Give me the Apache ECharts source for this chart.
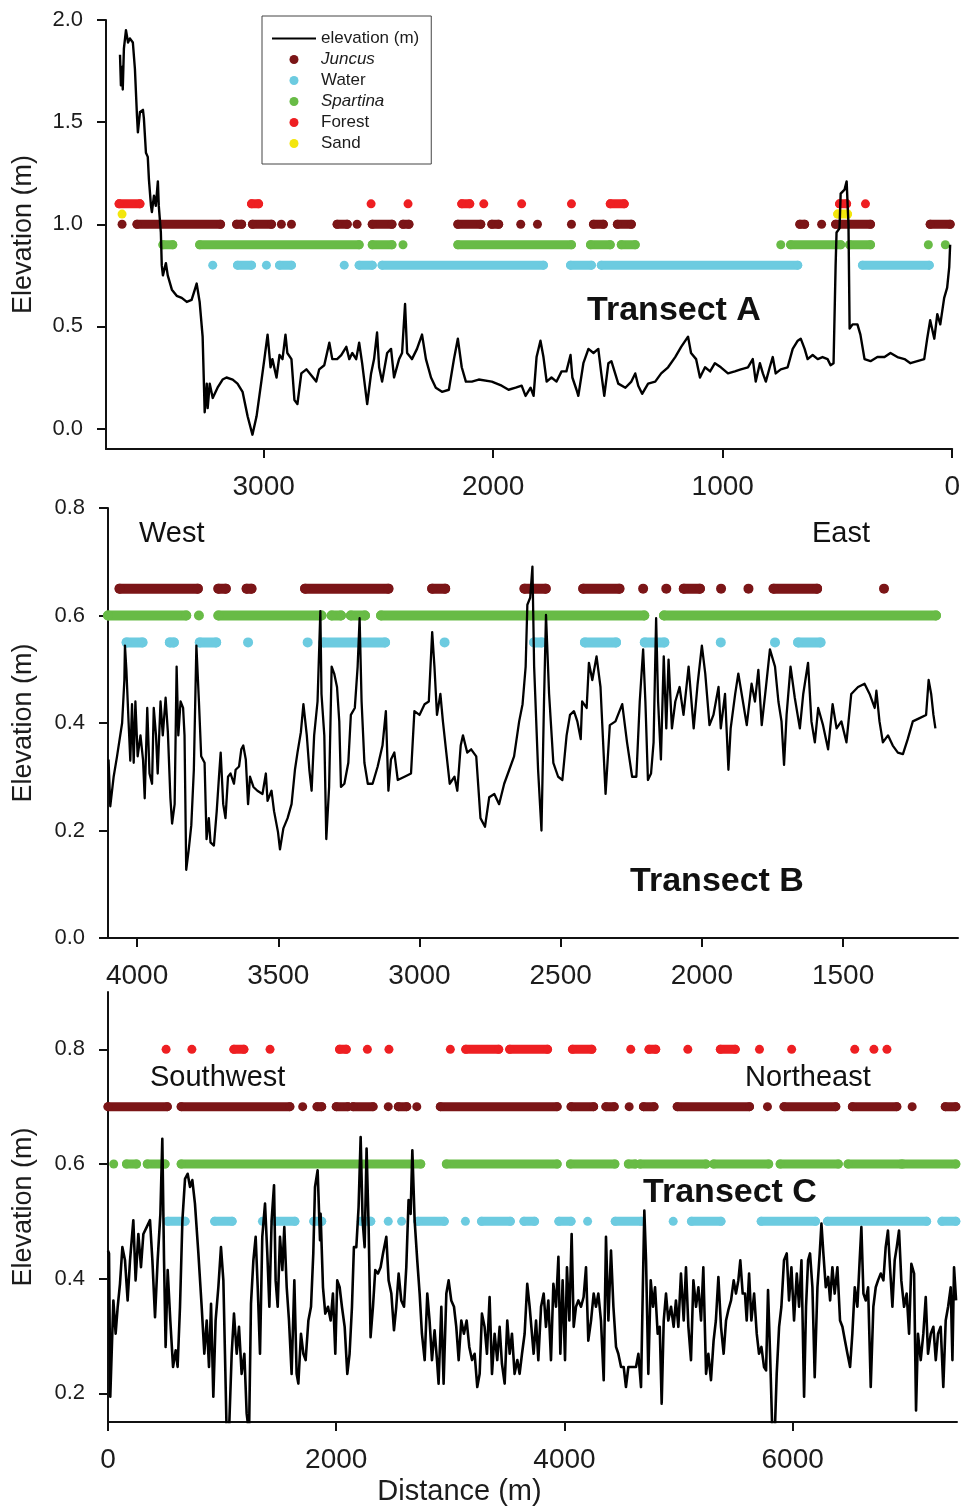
<!DOCTYPE html>
<html><head><meta charset="utf-8">
<script src="https://cdn.jsdelivr.net/npm/echarts@6/dist/echarts.min.js"></script>
<style>html,body{margin:0;padding:0;background:#fff}#c{width:963px;height:1510px}</style>
</head><body><div id="c"></div>
<script>
// ---------- Elevation profiles: [distance (m), elevation (m)] ----------
const elevA = [[3626,1.83],[3622,1.68],[3617,1.77],[3614,1.66],[3609,1.86],[3600,1.95],[3591,1.89],[3583,1.91],[3570,1.89],[3561,1.76],[3552,1.53],[3548,1.45],[3539,1.55],[3526,1.56],[3522,1.52],[3513,1.35],[3505,1.33],[3500,1.22],[3491,1.09],[3487,1.06],[3478,1.14],[3470,1.09],[3461,1.21],[3457,1.09],[3448,0.96],[3444,0.80],[3439,0.75],[3426,0.81],[3418,0.75],[3400,0.68],[3379,0.65],[3357,0.64],[3335,0.62],[3314,0.63],[3300,0.68],[3292,0.71],[3279,0.62],[3266,0.45],[3257,0.08],[3248,0.22],[3244,0.10],[3235,0.22],[3222,0.15],[3201,0.20],[3179,0.24],[3162,0.25],[3135,0.24],[3114,0.22],[3092,0.18],[3070,0.06],[3049,-0.03],[3031,0.06],[3009,0.24],[2997,0.34],[2983,0.46],[2970,0.30],[2962,0.34],[2944,0.25],[2931,0.36],[2918,0.34],[2905,0.46],[2897,0.37],[2879,0.34],[2866,0.14],[2853,0.12],[2836,0.27],[2814,0.29],[2792,0.26],[2771,0.23],[2758,0.29],[2736,0.31],[2714,0.42],[2701,0.34],[2680,0.34],[2662,0.36],[2640,0.40],[2627,0.34],[2614,0.37],[2597,0.34],[2584,0.42],[2571,0.32],[2549,0.12],[2532,0.27],[2519,0.34],[2506,0.47],[2497,0.30],[2484,0.23],[2462,0.37],[2445,0.39],[2432,0.25],[2410,0.34],[2397,0.37],[2384,0.61],[2375,0.37],[2354,0.34],[2332,0.39],[2310,0.46],[2293,0.34],[2271,0.25],[2250,0.20],[2223,0.18],[2193,0.19],[2171,0.34],[2154,0.44],[2137,0.30],[2119,0.23],[2093,0.23],[2063,0.24],[2006,0.23],[1963,0.21],[1933,0.19],[1902,0.20],[1876,0.21],[1859,0.16],[1837,0.20],[1824,0.16],[1811,0.35],[1794,0.43],[1781,0.35],[1767,0.23],[1746,0.25],[1724,0.23],[1702,0.28],[1681,0.28],[1663,0.36],[1655,0.25],[1637,0.19],[1629,0.16],[1607,0.32],[1585,0.39],[1563,0.37],[1542,0.39],[1529,0.27],[1516,0.16],[1498,0.32],[1485,0.33],[1455,0.22],[1424,0.20],[1398,0.23],[1381,0.27],[1368,0.21],[1351,0.17],[1325,0.22],[1294,0.23],[1268,0.27],[1238,0.30],[1207,0.35],[1181,0.40],[1151,0.45],[1138,0.37],[1116,0.34],[1099,0.25],[1077,0.30],[1055,0.28],[1034,0.32],[1008,0.30],[977,0.27],[947,0.28],[921,0.29],[890,0.30],[869,0.34],[856,0.23],[838,0.32],[825,0.27],[812,0.23],[795,0.30],[782,0.35],[769,0.27],[747,0.29],[717,0.30],[695,0.39],[673,0.43],[660,0.44],[643,0.39],[630,0.34],[608,0.36],[586,0.34],[565,0.35],[543,0.34],[530,0.31],[517,0.32],[508,0.80],[504,0.96],[491,0.98],[486,1.15],[469,1.17],[460,1.21],[452,1.00],[447,0.49],[434,0.51],[413,0.51],[400,0.46],[382,0.34],[356,0.33],[326,0.35],[295,0.35],[269,0.37],[239,0.35],[208,0.34],[182,0.32],[152,0.33],[122,0.34],[109,0.44],[96,0.53],[78,0.44],[65,0.56],[52,0.51],[35,0.64],[22,0.69],[13,0.79],[9,0.90]];

const elevB = [[4101,0.332],[4095,0.245],[4083,0.30],[4071,0.338],[4053,0.40],[4045,0.48],[4043,0.544],[4038,0.50],[4030,0.40],[4024,0.33],[4018,0.435],[4012,0.326],[4006,0.44],[3998,0.338],[3988,0.377],[3979,0.332],[3973,0.26],[3964,0.428],[3956,0.306],[3947,0.287],[3941,0.428],[3933,0.377],[3927,0.306],[3917,0.44],[3909,0.377],[3899,0.447],[3891,0.383],[3882,0.26],[3876,0.213],[3867,0.249],[3860,0.505],[3854,0.377],[3846,0.44],[3837,0.428],[3832,0.377],[3826,0.127],[3817,0.165],[3808,0.21],[3799,0.313],[3790,0.544],[3781,0.44],[3773,0.338],[3761,0.326],[3754,0.184],[3746,0.223],[3740,0.178],[3728,0.172],[3718,0.236],[3710,0.30],[3704,0.345],[3695,0.249],[3687,0.223],[3678,0.30],[3669,0.306],[3657,0.287],[3651,0.313],[3639,0.319],[3631,0.351],[3624,0.358],[3615,0.332],[3607,0.249],[3600,0.30],[3588,0.281],[3574,0.274],[3556,0.268],[3544,0.306],[3538,0.255],[3524,0.274],[3515,0.236],[3501,0.197],[3494,0.165],[3482,0.204],[3467,0.223],[3453,0.249],[3441,0.313],[3432,0.345],[3420,0.383],[3411,0.435],[3399,0.377],[3390,0.313],[3382,0.274],[3373,0.377],[3361,0.44],[3351,0.608],[3347,0.454],[3337,0.377],[3330,0.184],[3320,0.281],[3311,0.505],[3302,0.492],[3292,0.467],[3284,0.403],[3278,0.281],[3266,0.287],[3252,0.326],[3243,0.415],[3229,0.428],[3219,0.505],[3212,0.595],[3205,0.44],[3195,0.326],[3183,0.287],[3166,0.287],[3148,0.319],[3131,0.358],[3119,0.422],[3110,0.274],[3101,0.332],[3089,0.345],[3077,0.294],[3053,0.30],[3030,0.306],[3018,0.422],[3000,0.415],[2982,0.435],[2967,0.44],[2955,0.569],[2947,0.505],[2938,0.415],[2926,0.454],[2917,0.403],[2905,0.345],[2893,0.287],[2876,0.30],[2866,0.274],[2854,0.358],[2846,0.377],[2831,0.345],[2817,0.351],[2799,0.338],[2784,0.223],[2768,0.207],[2753,0.262],[2735,0.268],[2718,0.249],[2700,0.287],[2682,0.313],[2665,0.338],[2647,0.403],[2635,0.435],[2624,0.505],[2618,0.62],[2608,0.633],[2600,0.691],[2594,0.505],[2580,0.313],[2568,0.20],[2559,0.44],[2552,0.601],[2541,0.454],[2526,0.326],[2509,0.30],[2494,0.294],[2479,0.377],[2467,0.415],[2453,0.422],[2441,0.403],[2429,0.37],[2424,0.44],[2408,0.428],[2400,0.512],[2388,0.48],[2373,0.524],[2359,0.467],[2341,0.268],[2326,0.396],[2306,0.403],[2282,0.435],[2265,0.364],[2247,0.30],[2232,0.30],[2220,0.44],[2208,0.537],[2200,0.44],[2191,0.294],[2180,0.306],[2171,0.364],[2162,0.595],[2155,0.44],[2145,0.332],[2135,0.524],[2126,0.39],[2118,0.518],[2106,0.39],[2094,0.44],[2079,0.467],[2065,0.415],[2047,0.505],[2029,0.39],[2015,0.473],[2000,0.544],[1988,0.492],[1973,0.396],[1959,0.415],[1941,0.467],[1933,0.39],[1918,0.454],[1906,0.313],[1898,0.39],[1882,0.454],[1871,0.492],[1853,0.435],[1841,0.396],[1824,0.473],[1812,0.44],[1800,0.499],[1788,0.396],[1773,0.467],[1759,0.537],[1741,0.505],[1729,0.44],[1718,0.403],[1709,0.322],[1700,0.415],[1686,0.505],[1671,0.447],[1653,0.39],[1641,0.454],[1624,0.512],[1612,0.403],[1600,0.364],[1588,0.428],[1571,0.396],[1553,0.351],[1537,0.435],[1523,0.39],[1506,0.403],[1488,0.364],[1471,0.454],[1447,0.467],[1424,0.473],[1406,0.454],[1388,0.428],[1382,0.46],[1371,0.403],[1359,0.364],[1341,0.377],[1324,0.358],[1306,0.345],[1288,0.342],[1271,0.37],[1253,0.403],[1229,0.409],[1206,0.415],[1197,0.48],[1188,0.454],[1180,0.415],[1173,0.39]];

const elevC = [[0,0.449],[9,0.444],[20,0.194],[32,0.194],[47,0.362],[67,0.304],[85,0.351],[105,0.391],[126,0.455],[149,0.432],[172,0.362],[193,0.432],[222,0.502],[242,0.397],[266,0.478],[289,0.42],[310,0.478],[339,0.49],[368,0.502],[389,0.432],[412,0.333],[435,0.432],[459,0.513],[476,0.644],[491,0.432],[505,0.281],[523,0.415],[546,0.327],[570,0.246],[593,0.275],[610,0.246],[631,0.351],[652,0.502],[675,0.574],[698,0.583],[719,0.56],[739,0.572],[762,0.531],[792,0.444],[821,0.351],[844,0.269],[865,0.327],[885,0.246],[903,0.356],[923,0.194],[943,0.327],[967,0.385],[990,0.455],[1011,0.397],[1025,0.269],[1040,0.13],[1060,0.13],[1084,0.269],[1104,0.339],[1128,0.269],[1148,0.316],[1171,0.234],[1195,0.269],[1215,0.165],[1236,0.13],[1253,0.356],[1274,0.432],[1294,0.473],[1312,0.385],[1332,0.269],[1352,0.473],[1376,0.531],[1396,0.444],[1414,0.351],[1434,0.502],[1455,0.563],[1469,0.397],[1487,0.351],[1507,0.473],[1528,0.415],[1545,0.49],[1566,0.385],[1586,0.327],[1609,0.234],[1633,0.397],[1653,0.234],[1668,0.217],[1691,0.304],[1712,0.269],[1732,0.258],[1756,0.327],[1779,0.351],[1799,0.444],[1814,0.56],[1837,0.589],[1858,0.467],[1863,0.513],[1884,0.385],[1904,0.339],[1928,0.351],[1951,0.327],[1971,0.374],[1992,0.269],[2009,0.397],[2030,0.385],[2050,0.351],[2074,0.316],[2097,0.234],[2117,0.269],[2138,0.351],[2155,0.455],[2176,0.455],[2196,0.525],[2214,0.647],[2231,0.502],[2249,0.455],[2266,0.627],[2284,0.49],[2301,0.298],[2322,0.351],[2342,0.415],[2366,0.409],[2389,0.42],[2410,0.444],[2439,0.473],[2459,0.397],[2483,0.374],[2506,0.31],[2526,0.351],[2547,0.409],[2570,0.362],[2594,0.351],[2614,0.42],[2634,0.537],[2652,0.513],[2667,0.624],[2687,0.502],[2710,0.432],[2731,0.374],[2751,0.304],[2775,0.258],[2798,0.374],[2818,0.327],[2839,0.258],[2862,0.31],[2883,0.258],[2897,0.217],[2921,0.351],[2941,0.217],[2965,0.374],[2985,0.397],[3008,0.362],[3032,0.351],[3052,0.316],[3073,0.258],[3096,0.327],[3119,0.304],[3143,0.327],[3166,0.281],[3190,0.258],[3213,0.269],[3236,0.211],[3257,0.234],[3277,0.339],[3300,0.316],[3321,0.269],[3344,0.368],[3365,0.234],[3388,0.304],[3411,0.258],[3432,0.316],[3452,0.252],[3476,0.217],[3499,0.327],[3520,0.269],[3540,0.304],[3563,0.234],[3587,0.258],[3607,0.234],[3628,0.269],[3651,0.304],[3674,0.391],[3695,0.351],[3715,0.304],[3730,0.269],[3751,0.327],[3771,0.258],[3795,0.351],[3818,0.374],[3838,0.316],[3859,0.362],[3882,0.258],[3903,0.391],[3926,0.351],[3947,0.438],[3964,0.269],[3984,0.397],[4005,0.258],[4022,0.42],[4043,0.327],[4063,0.478],[4081,0.316],[4101,0.351],[4122,0.362],[4145,0.351],[4168,0.368],[4189,0.42],[4209,0.292],[4233,0.327],[4256,0.374],[4276,0.351],[4297,0.374],[4320,0.327],[4344,0.223],[4364,0.473],[4385,0.327],[4408,0.449],[4429,0.351],[4452,0.281],[4472,0.269],[4496,0.246],[4519,0.246],[4539,0.211],[4560,0.246],[4584,0.246],[4607,0.246],[4627,0.246],[4648,0.269],[4671,0.211],[4686,0.374],[4700,0.519],[4715,0.432],[4735,0.234],[4756,0.397],[4776,0.351],[4794,0.385],[4817,0.304],[4835,0.316],[4852,0.182],[4870,0.327],[4890,0.374],[4910,0.327],[4934,0.351],[4957,0.316],[4977,0.362],[4998,0.316],[5021,0.409],[5045,0.327],[5065,0.42],[5086,0.316],[5109,0.258],[5130,0.397],[5153,0.351],[5174,0.385],[5197,0.327],[5217,0.42],[5241,0.234],[5261,0.269],[5284,0.223],[5307,0.292],[5327,0.327],[5349,0.403],[5372,0.316],[5395,0.269],[5416,0.327],[5436,0.345],[5460,0.362],[5483,0.397],[5503,0.374],[5524,0.397],[5541,0.432],[5562,0.374],[5582,0.374],[5597,0.327],[5618,0.409],[5638,0.327],[5662,0.374],[5685,0.304],[5705,0.269],[5726,0.281],[5749,0.246],[5767,0.24],[5784,0.38],[5802,0.269],[5822,0.13],[5843,0.13],[5860,0.234],[5881,0.316],[5901,0.351],[5924,0.432],[5948,0.444],[5968,0.362],[5989,0.42],[6012,0.327],[6036,0.409],[6056,0.351],[6077,0.432],[6100,0.194],[6117,0.351],[6135,0.432],[6152,0.444],[6173,0.385],[6193,0.228],[6217,0.385],[6237,0.444],[6252,0.496],[6269,0.444],[6290,0.385],[6311,0.403],[6328,0.362],[6348,0.42],[6368,0.374],[6392,0.42],[6415,0.327],[6436,0.316],[6458,0.292],[6480,0.269],[6503,0.246],[6523,0.304],[6544,0.385],[6567,0.351],[6587,0.432],[6602,0.49],[6620,0.374],[6640,0.362],[6661,0.385],[6684,0.211],[6707,0.351],[6728,0.385],[6748,0.397],[6772,0.409],[6795,0.397],[6815,0.455],[6835,0.484],[6853,0.42],[6874,0.351],[6894,0.432],[6912,0.455],[6932,0.484],[6952,0.397],[6976,0.351],[6999,0.374],[7020,0.304],[7040,0.426],[7064,0.409],[7081,0.17],[7098,0.304],[7122,0.258],[7145,0.304],[7166,0.368],[7186,0.269],[7210,0.304],[7233,0.316],[7254,0.258],[7274,0.304],[7297,0.316],[7320,0.211],[7341,0.327],[7362,0.351],[7385,0.385],[7400,0.258],[7414,0.42],[7432,0.362]];

// ---------- Habitat observations: runs of [from, to] distance (m) ----------
const juncusA   = [[3617,3617],[3552,3188],[3118,3096],[3049,2966],[2923,2923],[2879,2879],[2680,2636],[2593,2593],[2527,2441],[2393,2367],[2154,2054],[2006,1976],[1880,1880],[1807,1807],[1659,1659],[1563,1520],[1459,1398],[664,643],[569,569],[508,356],[96,9]];
const waterA    = [[3222,3222],[3114,3053],[2988,2988],[2931,2879],[2649,2649],[2584,2527],[2484,1781],[1663,1572],[1529,673],[391,100]];
const spartinaA = [[3439,3396],[3279,2584],[2527,2441],[2393,2393],[2154,1659],[1576,1490],[1442,1381],[747,747],[704,486],[447,356],[104,104],[30,30]];
const forestA   = [[3630,3539],[3053,3022],[2532,2532],[2371,2371],[2137,2102],[2041,2041],[1876,1876],[1659,1659],[1490,1429],[491,460],[378,378]];
const sandA     = [[3617,3617],[499,456]];

const juncusB   = [[4062,3785],[3712,3686],[3612,3595],[3405,3110],[2955,2909],[2628,2553],[2420,2292],[2208,2208],[2126,2126],[2064,2007],[1932,1932],[1835,1835],[1746,1592],[1355,1355]];
const spartinaB = [[4103,3826],[3781,3781],[3712,3347],[3311,3278],[3243,3193],[3136,2204],[2134,1171]];
const waterB    = [[4037,3981],[3884,3870],[3778,3720],[3607,3607],[3396,3396],[3340,3122],[2911,2911],[2594,2567],[2414,2304],[2202,2133],[1933,1933],[1741,1741],[1659,1580]];

const forestC   = [[509,509],[735,735],[1103,1191],[1420,1420],[2029,2088],[2273,2273],[2462,2462],[3000,3000],[3135,3424],[3520,3852],[4070,4240],[4581,4581],[4741,4800],[5081,5081],[5366,5497],[5709,5709],[5991,5991],[6544,6544],[6712,6712],[6826,6826]];
const juncusC   = [[0,520],[641,1594],[1706,1706],[1832,1873],[2000,2103],[2147,2323],[2456,2456],[2544,2618],[2706,2706],[2912,3936],[4058,4256],[4363,4436],[4567,4567],[4692,4785],[4988,5622],[5779,5779],[5924,6378],[6523,6913],[7047,7047],[7337,7430]];
const spartinaC = [[50,50],[162,250],[344,500],[641,2741],[2965,3936],[4052,4442],[4560,4620],[4663,5240],[5308,5790],[5890,6400],[6485,6950],[6965,7430]];
const waterC    = [[523,676],[935,1088],[1353,1353],[1465,1638],[1803,1873],[2220,2303],[2456,2456],[2573,2573],[2715,2947],[3132,3132],[3273,3526],[3645,3738],[3951,4058],[4203,4203],[4445,4674],[4953,4953],[5113,5372],[5724,6200],[6305,7174],[7308,7430]];

// plotting levels of the habitat markers (m)
const levelA = {Forest:1.1, Sand:1.05, Juncus:1.0, Spartina:0.9, Water:0.8};
const levelB = {Juncus:0.65, Spartina:0.6, Water:0.55};
const levelC = {Forest:0.8, Juncus:0.7, Spartina:0.6, Water:0.5};

// axis tick values
const xTicksA = [0,1000,2000,3000];
const xTicksB = [1500,2000,2500,3000,3500,4000];
const xTicksC = [0,2000,4000,6000];
const yTicksA = [0,0.5,1.0,1.5,2.0];
const yTicksB = [0,0.2,0.4,0.6,0.8];
const yTicksC = [0.2,0.4,0.6,0.8];

const legendNames = ['elevation (m)','Juncus','Water','Spartina','Forest','Sand'];

const COLORS = {Juncus:'#7b1517', Water:'#6ccbe0', Spartina:'#68bb46', Forest:'#ee1f22', Sand:'#f3e60c'};
const FONT = '"Liberation Sans", Arial, sans-serif';
const INK = '#1c1c1c';

function runLine(runs, y){
  const d=[];
  runs.forEach(r=>{ d.push([r[0],y],[r[1],y],[r[1],'-']); });
  return d;
}
function runDots(runs, y){
  const d=[];
  runs.forEach(r=>{ d.push([r[0],y]); if(r[1]!==r[0]) d.push([r[1],y]); });
  return d;
}
function habitat(name, runs, y, gi, size){
  return [
    {type:'line', name, xAxisIndex:gi, yAxisIndex:gi, data:runLine(runs,y), symbol:'none', showSymbol:false,
     connectNulls:false, clip:false, silent:true, z:2, color:COLORS[name],
     lineStyle:{color:COLORS[name], width:size, cap:'round'}},
    {type:'scatter', name, xAxisIndex:gi, yAxisIndex:gi, data:runDots(runs,y), symbol:'circle', symbolSize:size,
     clip:false, silent:true, z:2, itemStyle:{color:COLORS[name], opacity:1}}
  ];
}
function elev(data, gi, w){
  return {type:'line', name:'elevation (m)', xAxisIndex:gi, yAxisIndex:gi, data, symbol:'none', showSymbol:false,
    clip:true, z:4, color:'#000', lineStyle:{color:'#000', width:w, join:'round'}};
}
function xAxis(gi, min, max, inverse, ticks, extra){
  return Object.assign({type:'value', gridIndex:gi, min, max, inverse, splitLine:{show:false},
    axisLine:{onZero:false, lineStyle:{color:'#111', width:2}},
    axisTick:{customValues:ticks, length:9, lineStyle:{color:'#111', width:2}},
    axisLabel:{customValues:ticks, fontSize:28, color:INK, margin:24, fontFamily:FONT, formatter:v=>String(v)}}, extra||{});
}
function yAxis(gi, min, max, ticks, gap){
  return {type:'value', gridIndex:gi, min, max, splitLine:{show:false},
    name:'Elevation (m)', nameLocation:'middle', nameGap:gap,
    nameTextStyle:{fontSize:27, color:INK, fontFamily:FONT},
    axisLine:{onZero:false, lineStyle:{color:'#111', width:2}},
    axisTick:{customValues:ticks, length:9, lineStyle:{color:'#111', width:2}},
    axisLabel:{customValues:ticks, fontSize:22, color:INK, margin:23, fontFamily:FONT, formatter:v=>v.toFixed(1)}};
}
function label(text, x, y, size, bold, align){
  return {type:'text', x, y, z:10, style:{text, fill:'#111', fontSize:size, fontWeight:bold?'bold':'normal',
    fontFamily:FONT, align:align||'left', verticalAlign:'middle'}};
}

const series = [
  ...habitat('Water', waterA, levelA.Water, 0, 9),
  ...habitat('Spartina', spartinaA, levelA.Spartina, 0, 9),
  ...habitat('Juncus', juncusA, levelA.Juncus, 0, 9),
  ...habitat('Sand', sandA, levelA.Sand, 0, 9),
  ...habitat('Forest', forestA, levelA.Forest, 0, 9),
  elev(elevA, 0, 2.4),
  ...habitat('Water', waterB, levelB.Water, 1, 10),
  ...habitat('Spartina', spartinaB, levelB.Spartina, 1, 10),
  ...habitat('Juncus', juncusB, levelB.Juncus, 1, 10),
  elev(elevB, 1, 2.3),
  ...habitat('Water', waterC, levelC.Water, 2, 9),
  ...habitat('Spartina', spartinaC, levelC.Spartina, 2, 9),
  ...habitat('Juncus', juncusC, levelC.Juncus, 2, 9),
  ...habitat('Forest', forestC, levelC.Forest, 2, 9),
  elev(elevC, 2, 2.6)
];

const option = {
  animation:false,
  backgroundColor:'#fff',
  textStyle:{fontFamily:FONT},
  grid:[
    {left:106, top:20, width:849, height:429},
    {left:108, top:508, width:850, height:430},
    {left:108, top:992, width:849, height:430}
  ],
  xAxis:[
    xAxis(0, 0, 3687, true, xTicksA),
    xAxis(1, 1093, 4103, true, xTicksB),
    xAxis(2, 0, 7440, false, xTicksC, {name:'Distance (m)', nameLocation:'middle', nameGap:55,
      nameTextStyle:{fontSize:29, color:INK, fontFamily:FONT, padding:[0,146,0,0]}})
  ],
  yAxis:[
    yAxis(0, -0.1, 2.0, yTicksA, 69),
    yAxis(1, 0, 0.8, yTicksB, 71),
    yAxis(2, 0.15, 0.9, yTicksC, 71)
  ],
  legend:{
    show:true, orient:'vertical', left:262, top:16,
    data: legendNames.map(n => n==='elevation (m)'
      ? {name:n, icon:'path://M0,0L44,0L44,2L0,2Z'}
      : {name:n, icon:'circle'}),
    itemWidth:44, itemHeight:9, itemGap:4,
    padding:[14,12,12,10],
    borderColor:'#444', borderWidth:1, backgroundColor:'#fff',
    textStyle:{fontSize:17, color:INK, fontFamily:FONT, lineHeight:16,
      rich:{it:{fontStyle:'italic', fontSize:17, color:INK, fontFamily:FONT}}},
    formatter: n => (n==='Juncus'||n==='Spartina') ? '{it|'+n+'}' : n
  },
  graphic:[
    label('Transect A', 674, 311, 34, true, 'center'),
    label('West', 139, 534, 29, false),
    label('East', 812, 534, 29, false),
    label('Transect B', 717, 882, 34, true, 'center'),
    label('Southwest', 150, 1078, 29, false),
    label('Northeast', 745, 1078, 29, false),
    label('Transect C', 730, 1193, 34, true, 'center')
  ],
  series
};
const chart = echarts.init(document.getElementById('c'), null, {renderer:'canvas'});
chart.setOption(option);
</script>
</body></html>
